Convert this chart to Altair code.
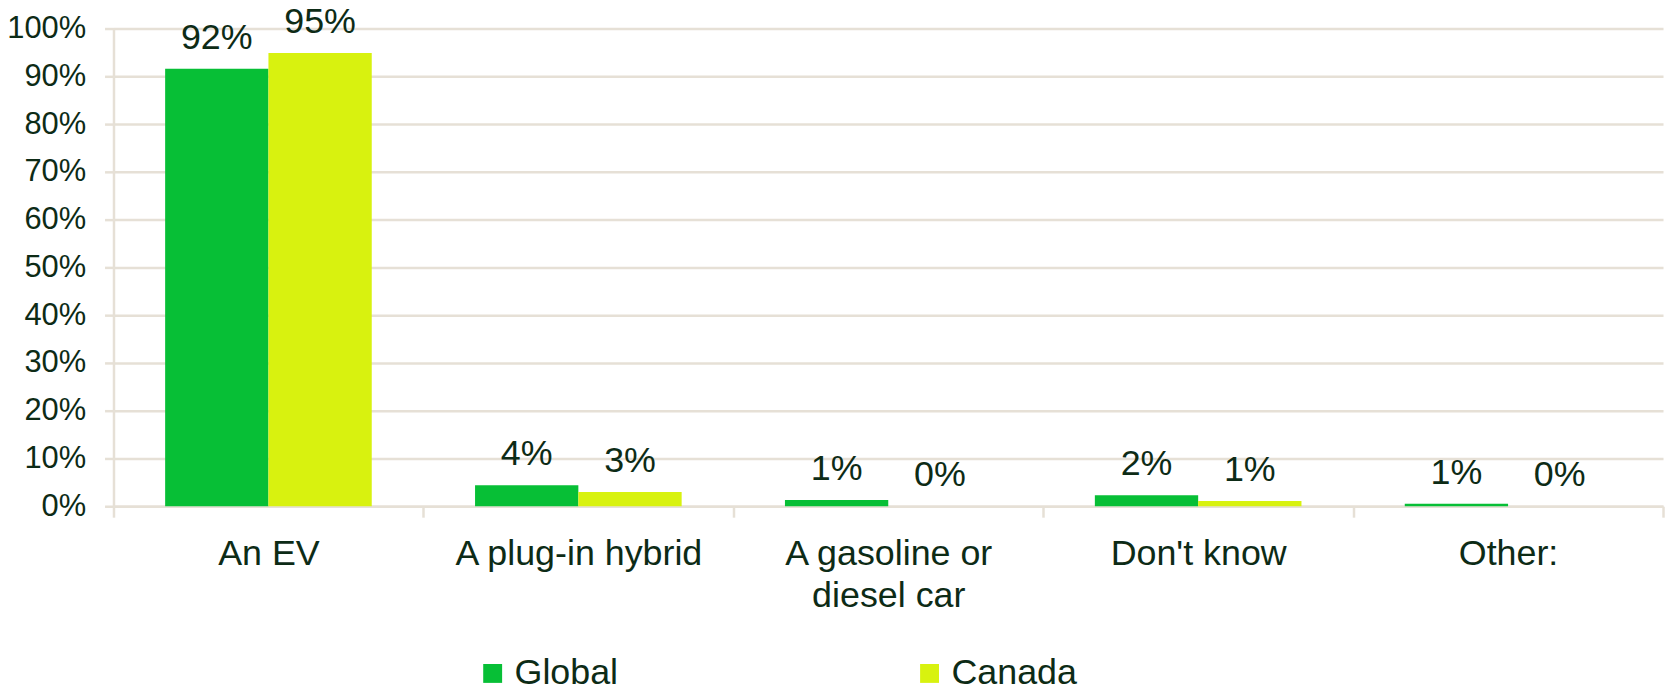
import altair as alt
import pandas as pd

categories = ["An EV", "A plug-in hybrid", "A gasoline or diesel car", "Don't know", "Other:"]
series = ["Global", "Canada"]
global_vals = [91.6, 4.4, 1.3, 2.3, 0.5]
canada_vals = [94.9, 3.0, 0.0, 1.1, 0.0]
y_ticks = [0, 10, 20, 30, 40, 50, 60, 70, 80, 90, 100]
colors = ["#07BF36", "#D8F20F"]

rows = []
for c, g, k in zip(categories, global_vals, canada_vals):
    rows.append({"category": c, "series": "Global", "value": g})
    rows.append({"category": c, "series": "Canada", "value": k})
df = pd.DataFrame(rows)

FONT = "Liberation Sans"
TEXT = "#0D2B16"
GRID = "#E6E0D6"

x = alt.X(
    "category:N",
    sort=categories,
    scale=alt.Scale(paddingInner=0, paddingOuter=0),
    axis=alt.Axis(
        title=None,
        labelAngle=0,
        labelFontSize=36,
        labelFont=FONT,
        labelColor=TEXT,
        labelPadding=20,
        labelLineHeight=42,
        labelLimit=400,
        labelExpr="datum.label == 'A gasoline or diesel car' ? ['A gasoline or', 'diesel car'] : datum.label",
        tickBand="extent",
        ticks=True,
        tickSize=11,
        tickColor=GRID,
        tickWidth=2.5,
        domain=True,
        domainColor=GRID,
        domainWidth=2.5,
        grid=False,
    ),
)
xo = alt.XOffset("series:N", sort=series, scale=alt.Scale(paddingInner=0, paddingOuter=0.5))
y = alt.Y(
    "value:Q",
    scale=alt.Scale(domain=[0, 100]),
    axis=alt.Axis(
        title=None,
        values=y_ticks,
        labelExpr="datum.value + '%'",
        labelFontSize=31,
        labelFont=FONT,
        labelColor=TEXT,
        labelPadding=19,
        tickSize=9,
        tickColor=GRID,
        tickWidth=2.5,
        grid=True,
        gridColor=GRID,
        gridWidth=2.5,
        domain=True,
        domainColor=GRID,
        domainWidth=2.5,
    ),
)
color = alt.Color(
    "series:N",
    sort=series,
    scale=alt.Scale(domain=series, range=colors),
    legend=alt.Legend(
        title=None,
        orient="none",
        legendX=363,
        legendY=630,
        direction="horizontal",
        symbolType="square",
        symbolSize=361,
        symbolStrokeWidth=0,
        labelFontSize=36,
        labelFont=FONT,
        labelColor=TEXT,
        labelOffset=4,
        columnPadding=294,
        padding=0,
    ),
)

bars = alt.Chart(df).mark_bar().encode(x=x, xOffset=xo, y=y, color=color)
labels = (
    alt.Chart(df)
    .transform_calculate(label="format(datum.value / 100, '.0%')")
    .mark_text(baseline="alphabetic", dy=-20, fontSize=36, font=FONT, color=TEXT)
    .encode(x=x, xOffset=xo, y=y, text="label:N")
)

chart = (
    alt.layer(bars, labels)
    .properties(
        width=1557,
        height=480,
        autosize=alt.AutoSizeParams(type="none"),
        padding={"left": 106, "top": 19, "right": 4, "bottom": 181},
    )
    .configure_view(stroke=None)
)

chart.save("out.html", embed_options={"renderer": "svg", "actions": False})
